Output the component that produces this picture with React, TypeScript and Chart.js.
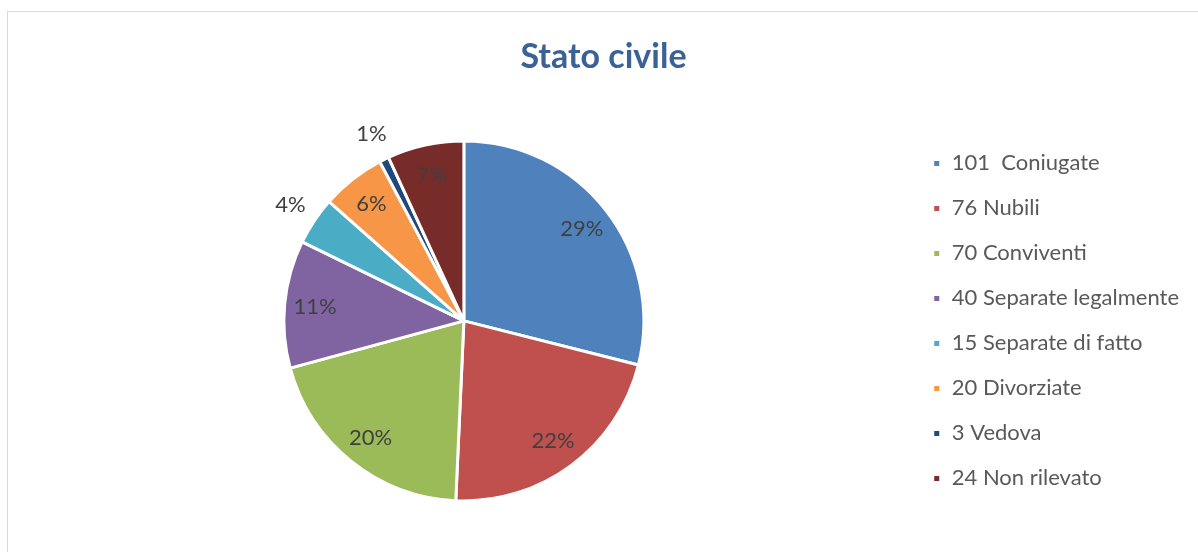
import React, { useEffect, useRef } from "react";
import { Chart, registerables } from "chart.js";

Chart.register(...registerables);

const TITLE = "Stato civile";
const CATEGORIES = [
  "101  Coniugate",
  "76 Nubili",
  "70 Conviventi",
  "40 Separate legalmente",
  "15 Separate di fatto",
  "20 Divorziate",
  "3 Vedova",
  "24 Non rilevato",
];
const VALUES = [101, 76, 70, 40, 15, 20, 3, 24];
const COLORS = ["#4F81BD", "#C0504D", "#9BBB59", "#8064A2", "#4BACC6", "#F79646", "#1F497D", "#772C2A"];
const FONT = "Lato, 'Open Sans', sans-serif";

const pctLabels = {
  id: "pctLabels",
  afterDatasetsDraw(chart: any) {
    const meta = chart.getDatasetMeta(0);
    const data = chart.data.datasets[0].data as number[];
    const total = data.reduce((a, b) => a + b, 0);
    const ctx = chart.ctx;
    ctx.save();
    ctx.font = "22px " + FONT;
    ctx.fillStyle = "#404040";
    ctx.textAlign = "center";
    ctx.textBaseline = "middle";
    meta.data.forEach((arc: any, i: number) => {
      const p = data[i] / total;
      const { x, y, startAngle, endAngle, outerRadius } = arc.getProps(
        ["x", "y", "startAngle", "endAngle", "outerRadius"],
        true
      );
      const mid = (startAngle + endAngle) / 2;
      const f = p < 0.05 ? 1.16 : 0.83;
      const lx = x + Math.cos(mid) * outerRadius * f;
      const ly = y + Math.sin(mid) * outerRadius * f;
      ctx.fillText(Math.round(p * 100) + "%", lx, ly);
    });
    ctx.restore();
  },
};

export default function App() {
  const ref = useRef<HTMLCanvasElement>(null);
  useEffect(() => {
    if (!ref.current) return;
    const chart = new Chart(ref.current, {
      type: "pie",
      data: {
        labels: CATEGORIES,
        datasets: [
          {
            data: VALUES,
            backgroundColor: COLORS,
            borderColor: "#ffffff",
            borderWidth: 3,
            radius: 180,
          } as any,
        ],
      },
      options: {
        animation: false,
        responsive: false,
        maintainAspectRatio: false,
        layout: { padding: { left: 18, right: 9, top: 0, bottom: 10 } },
        plugins: {
          title: {
            display: true,
            text: TITLE,
            color: "#3B6296",
            font: { family: FONT, size: 34, weight: "bold" },
            padding: { top: 37, bottom: 22 },
          },
          legend: {
            position: "right",
            fullSize: false,
            maxWidth: 285,
            labels: {
              boxWidth: 8,
              boxHeight: 8,
              padding: 23,
              color: "#595959",
              font: { family: FONT, size: 22 },
            },
          },
          tooltip: { enabled: false },
        },
      },
      plugins: [pctLabels],
    });
    return () => chart.destroy();
  }, []);
  return (
    <div style={{ position: "fixed", left: 0, top: 0, width: 1198, height: 552, background: "#fff" }}>
      <div
        style={{
          position: "absolute",
          left: 7,
          top: 11,
          width: 1300,
          height: 700,
          border: "1px solid #d9d9d9",
        }}
      />
      <canvas ref={ref} width={1198} height={552} style={{ position: "absolute", left: 0, top: 0 }} />
    </div>
  );
}
